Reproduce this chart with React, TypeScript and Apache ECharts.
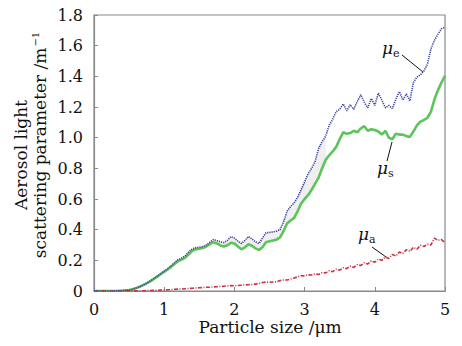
import React, { useEffect, useRef } from "react";
import * as echarts from "echarts";

const sizes = [
  0, 0.05, 0.1, 0.15, 0.2, 0.25, 0.3, 0.35, 0.4, 0.45, 0.5, 0.55, 0.6, 0.65, 0.7, 0.75, 0.8, 0.85, 0.9, 0.95,
  1, 1.05, 1.1, 1.15, 1.2, 1.25, 1.3, 1.35, 1.4, 1.45, 1.5, 1.55, 1.6, 1.65, 1.7, 1.75, 1.8, 1.85, 1.9, 1.95,
  2, 2.05, 2.1, 2.15, 2.2, 2.25, 2.3, 2.35, 2.4, 2.45, 2.5, 2.55, 2.6, 2.65, 2.7, 2.75, 2.8, 2.85, 2.9, 2.95,
  3, 3.05, 3.1, 3.15, 3.2, 3.25, 3.3, 3.35, 3.4, 3.45, 3.5, 3.55, 3.6, 3.65, 3.7, 3.75, 3.8, 3.85, 3.9, 3.95,
  4, 4.05, 4.1, 4.15, 4.2, 4.25, 4.3, 4.35, 4.4, 4.45, 4.5, 4.55, 4.6, 4.65, 4.7, 4.75, 4.8, 4.85, 4.9, 4.95,
  5,
];

// mu_s (scattering)
const muS = [
  0, 0, 0, 0, 0, 0, 0, 0.001, 0.002, 0.004, 0.007, 0.012, 0.019, 0.028, 0.038, 0.05, 0.063, 0.078, 0.094, 0.11,
  0.125, 0.14, 0.158, 0.178, 0.195, 0.205, 0.218, 0.24, 0.262, 0.272, 0.275, 0.28, 0.29, 0.305, 0.318, 0.31, 0.297, 0.29, 0.298, 0.315,
  0.31, 0.29, 0.272, 0.285, 0.305, 0.295, 0.278, 0.268, 0.285, 0.318, 0.325, 0.33, 0.335, 0.35, 0.39, 0.44, 0.46, 0.475, 0.52, 0.57,
  0.6, 0.625, 0.66, 0.7, 0.74, 0.8, 0.855, 0.885, 0.91, 0.94, 0.99, 1.035, 1.025, 1.03, 1.045, 1.035, 1.06, 1.075, 1.045, 1.055,
  1.05, 1.04, 1.02, 1.045, 1.0, 0.99, 1.025, 1.02, 1.02, 1.01, 1.005, 1.04, 1.08, 1.105, 1.115, 1.13, 1.17, 1.25, 1.31, 1.36,
  1.405,
];

// mu_e (extinction)
const muE = [
  0, 0, 0, 0, 0, 0, 0, 0.001, 0.002, 0.004, 0.007, 0.012, 0.019, 0.028, 0.039, 0.051, 0.065, 0.08, 0.097, 0.113,
  0.13, 0.146, 0.165, 0.186, 0.205, 0.215, 0.23, 0.255, 0.275, 0.283, 0.285, 0.29, 0.3, 0.318, 0.335, 0.33, 0.32, 0.315, 0.33, 0.355,
  0.345, 0.325, 0.31, 0.33, 0.355, 0.34, 0.32, 0.31, 0.345, 0.38, 0.382, 0.385, 0.39, 0.4, 0.45, 0.52, 0.55, 0.575, 0.61, 0.66,
  0.71, 0.765, 0.8, 0.845, 0.93, 0.975, 1.01, 1.08, 1.12, 1.17, 1.185, 1.22, 1.175, 1.215, 1.185, 1.235, 1.28, 1.23, 1.195, 1.255,
  1.21, 1.29, 1.245, 1.195, 1.21, 1.19, 1.25, 1.3, 1.245, 1.285, 1.24, 1.36, 1.395, 1.41, 1.435, 1.48, 1.58, 1.635, 1.675, 1.71,
  1.72,
];

// mu_a (absorption)
const muA = [
  0, 0, 0, 0, 0, 0, 0, 0, 0, 0, 0, 0.001, 0.001, 0.002, 0.002, 0.003, 0.003, 0.004, 0.005, 0.006,
  0.007, 0.008, 0.009, 0.011, 0.012, 0.013, 0.015, 0.017, 0.018, 0.02, 0.021, 0.022, 0.024, 0.025, 0.027, 0.028, 0.03, 0.031, 0.033, 0.035,
  0.034, 0.036, 0.038, 0.04, 0.041, 0.042, 0.045, 0.048, 0.055, 0.058, 0.057, 0.059, 0.06, 0.068, 0.072, 0.072, 0.078, 0.085, 0.092, 0.1,
  0.098, 0.105, 0.104, 0.112, 0.108, 0.12, 0.118, 0.132, 0.126, 0.142, 0.136, 0.152, 0.146, 0.162, 0.154, 0.172, 0.166, 0.184, 0.176, 0.196,
  0.188, 0.208, 0.2, 0.222, 0.212, 0.238, 0.228, 0.254, 0.244, 0.27, 0.258, 0.285, 0.272, 0.298, 0.29, 0.305, 0.3, 0.345, 0.33, 0.335,
  0.315,
];

const xTicks = [0, 1, 2, 3, 4, 5];
const yTicks = [0, 0.2, 0.4, 0.6, 0.8, 1.0, 1.2, 1.4, 1.6, 1.8];
// x range where the faint grey shading between mu_e and mu_s is visible
const shadeRange = [1.6, 3.3];

const SERIF = '"DejaVu Serif", "Liberation Serif", serif';

export default function App() {
  const ref = useRef<HTMLDivElement>(null);
  useEffect(() => {
    document.body.style.margin = "0";
    const chart = echarts.init(ref.current!, null, { renderer: "svg" });
    const pair = (ys: number[]) => sizes.map((x, i) => [x, ys[i]]);
    const muLabel = (x: number, y: number, sub: string) => [
      {
        type: "text",
        x,
        y,
        style: { text: "μ", font: `italic 17px ${SERIF}`, fill: "#111", align: "left", verticalAlign: "middle" },
      },
      {
        type: "text",
        x: x + 11,
        y: y + 5,
        style: { text: sub, font: `11px ${SERIF}`, fill: "#111", align: "left", verticalAlign: "middle" },
      },
    ];
    chart.setOption({
      animation: false,
      backgroundColor: "#fff",
      grid: { left: 94, right: 17, top: 15, bottom: 55, show: true, borderColor: "#8a8a8a", borderWidth: 1.2 },
      xAxis: {
        type: "value",
        min: 0,
        max: 5,
        interval: 1,
        splitLine: { show: false },
        axisLine: { lineStyle: { color: "#8a8a8a", width: 1.2 } },
        axisTick: { inside: true, length: 4, lineStyle: { color: "#8a8a8a" } },
        axisLabel: {
          fontFamily: SERIF,
          fontSize: 16,
          color: "#111",
          margin: 10,
          formatter: (v: number) => (xTicks.includes(v) ? String(v) : ""),
        },
      },
      yAxis: {
        type: "value",
        min: 0,
        max: 1.8,
        interval: 0.2,
        splitLine: { show: false },
        axisLine: { lineStyle: { color: "#8a8a8a", width: 1.2 } },
        axisTick: { inside: true, length: 4, lineStyle: { color: "#8a8a8a" } },
        axisLabel: {
          fontFamily: SERIF,
          fontSize: 16,
          color: "#111",
          margin: 11,
          formatter: (v: number) => {
            const t = yTicks.find((y) => Math.abs(y - v) < 1e-6);
            if (t === undefined) return "";
            return t === 0 ? "0" : t.toFixed(1);
          },
        },
      },
      series: [
        {
          type: "custom",
          silent: true,
          z: 1,
          data: sizes.map((x, i) => [x, muS[i], muE[i]]),
          renderItem: (params: any, api: any) => {
            const i = params.dataIndex;
            if (i >= sizes.length - 1) return null;
            if (sizes[i] < shadeRange[0] || sizes[i + 1] > shadeRange[1]) return null;
            const p1 = api.coord([sizes[i], muS[i]]);
            const p2 = api.coord([sizes[i + 1], muS[i + 1]]);
            const p3 = api.coord([sizes[i + 1], muE[i + 1]]);
            const p4 = api.coord([sizes[i], muE[i]]);
            return {
              type: "polygon",
              shape: { points: [p1, p2, p3, p4] },
              style: { fill: "#efefef", stroke: "#efefef", lineWidth: 0.5 },
            };
          },
        },
        {
          name: "mu_s",
          type: "line",
          data: pair(muS),
          symbol: "none",
          lineStyle: { color: "#5cc55a", width: 2.6 },
          z: 3,
        },
        {
          name: "mu_a",
          type: "line",
          data: pair(muA),
          symbol: "none",
          lineStyle: { color: "#c9323e", width: 1.6, type: [4, 1.5, 1, 1.5] },
          z: 3,
        },
        {
          name: "mu_e",
          type: "line",
          data: pair(muE),
          symbol: "none",
          lineStyle: { color: "#3c409c", width: 1.6, type: [1.2, 1] },
          z: 4,
        },
      ],
      graphic: [
        {
          type: "text",
          x: 21,
          y: 155,
          rotation: Math.PI / 2,
          style: {
            text: "Aerosol light",
            font: `17px ${SERIF}`,
            fill: "#111",
            align: "center",
            verticalAlign: "middle",
          },
        },
        {
          type: "text",
          x: 40,
          y: 145,
          rotation: Math.PI / 2,
          style: {
            text: "scattering parameter /m{sup|−1}",
            font: `17px ${SERIF}`,
            fill: "#111",
            align: "center",
            verticalAlign: "middle",
            rich: {
              sup: { fontFamily: SERIF, fontSize: 10, fill: "#111", padding: [0, 0, 9, 1] },
            },
          },
        },
        {
          type: "text",
          x: 270,
          y: 327,
          style: {
            text: "Particle size /μm",
            font: `17px ${SERIF}`,
            fill: "#111",
            align: "center",
            verticalAlign: "middle",
          },
        },
        ...muLabel(382, 48, "e"),
        { type: "line", shape: { x1: 402, y1: 55, x2: 423, y2: 72 }, style: { stroke: "#111", lineWidth: 1 } },
        ...muLabel(377, 168, "s"),
        { type: "line", shape: { x1: 392, y1: 142, x2: 387, y2: 161 }, style: { stroke: "#111", lineWidth: 1 } },
        ...muLabel(358, 234, "a"),
        { type: "line", shape: { x1: 372, y1: 247, x2: 386, y2: 257 }, style: { stroke: "#111", lineWidth: 1 } },
      ],
    });
    return () => chart.dispose();
  }, []);
  return <div ref={ref} style={{ width: 462, height: 346, position: "absolute", left: 0, top: 0 }} />;
}
